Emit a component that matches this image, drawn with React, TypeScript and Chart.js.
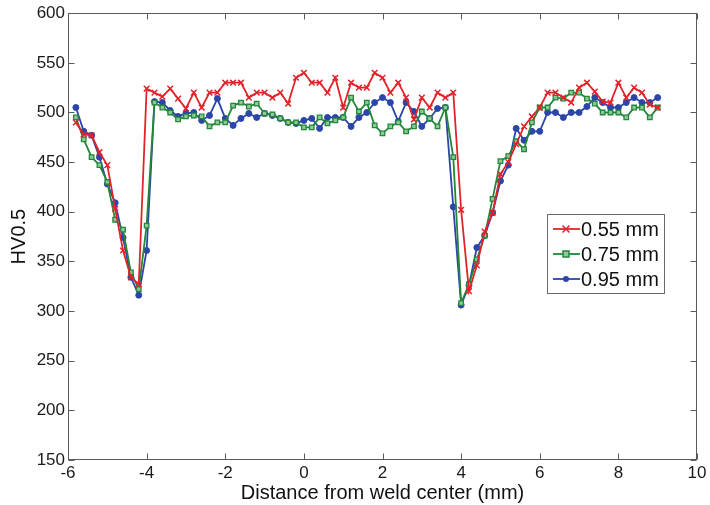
import React, { useEffect, useRef } from 'react';
import { Chart, registerables } from 'chart.js';

Chart.register(...registerables);

// Distance from weld center (mm)
const distances = [
  -5.8, -5.6, -5.4, -5.2, -5.0, -4.8, -4.6, -4.4, -4.2, -4.0,
  -3.8, -3.6, -3.4, -3.2, -3.0, -2.8, -2.6, -2.4, -2.2, -2.0,
  -1.8, -1.6, -1.4, -1.2, -1.0, -0.8, -0.6, -0.4, -0.2, 0.0,
  0.2, 0.4, 0.6, 0.8, 1.0, 1.2, 1.4, 1.6, 1.8, 2.0,
  2.2, 2.4, 2.6, 2.8, 3.0, 3.2, 3.4, 3.6, 3.8, 4.0,
  4.2, 4.4, 4.6, 4.8, 5.0, 5.2, 5.4, 5.6, 5.8, 6.0,
  6.2, 6.4, 6.6, 6.8, 7.0, 7.2, 7.4, 7.6, 7.8, 8.0,
  8.2, 8.4, 8.6, 8.8, 9.0,
];

// HV0.5 — 0.55 mm
const hv055 = [
  490, 478, 477, 460, 447, 403, 361, 334, 327, 524,
  520, 516, 524, 514, 504, 520, 505, 520, 520, 530,
  530, 530, 515, 520, 520, 515, 520, 509, 535, 540,
  530, 530, 520, 535, 505, 530, 525, 525, 540, 535,
  520, 530, 515, 493, 515, 505, 520, 515, 520, 402,
  320, 346, 380, 399, 438, 450, 468, 486, 496, 505,
  520, 520, 515, 510, 525, 530, 521, 511, 510, 530,
  515, 525, 520, 508, 505,
];

// HV0.5 — 0.75 mm
const hv075 = [
  495, 473, 455, 447, 430, 392, 382, 339, 322, 386,
  510, 505, 500, 493, 496, 497, 496, 486, 490, 490,
  507, 510, 506, 509, 499, 498, 494, 490, 490, 485,
  485, 495, 489, 492, 495, 515, 501, 510, 487, 479,
  486, 490, 481, 486, 501, 494, 486, 505, 455, 308,
  327, 352, 376, 413, 451, 456, 471, 463, 490, 505,
  505, 515, 514, 520, 520, 514, 509, 500, 500, 500,
  495, 505, 505, 495, 505,
];

// HV0.5 — 0.95 mm
const hv095 = [
  505, 481, 477, 455, 428, 409, 374, 334, 316, 361,
  511, 510, 502, 496, 499, 500, 492, 497, 514, 494,
  487, 494, 499, 495, 499, 497, 494, 490, 489, 492,
  494, 484, 495, 495, 495, 486, 495, 500, 510, 515,
  510, 491, 510, 501, 486, 494, 504, 505, 405, 306,
  326, 364, 376, 399, 431, 447, 484, 472, 481, 481,
  500, 500, 495, 500, 500, 506, 515, 510, 505, 505,
  510, 515, 510, 510, 515,
];

const seriesLabels = ['0.55 mm', '0.75 mm', '0.95 mm'];
const xTickValues = [-6, -4, -2, 0, 2, 4, 6, 8, 10];
const yTickValues = [150, 200, 250, 300, 350, 400, 450, 500, 550, 600];

const RED = '#e2232a';
const GREEN = '#23873a';
const BLUE = '#2b45a8';
const FONT = '"Liberation Sans", Arial, Helvetica, sans-serif';

function toPoints(values: number[]) {
  return distances.map((d, i) => ({ x: d, y: values[i] }));
}

function drawMarker(ctx: CanvasRenderingContext2D, style: string, x: number, y: number, color: string) {
  ctx.save();
  ctx.strokeStyle = color;
  ctx.fillStyle = color;
  ctx.lineWidth = 1.5;
  if (style === 'crossRot') {
    const r = 3.5;
    ctx.beginPath();
    ctx.moveTo(x - r, y - r);
    ctx.lineTo(x + r, y + r);
    ctx.moveTo(x - r, y + r);
    ctx.lineTo(x + r, y - r);
    ctx.stroke();
  } else if (style === 'rect') {
    ctx.fillStyle = '#8fc79a';
    ctx.fillRect(x - 3, y - 3, 6, 6);
    ctx.strokeRect(x - 3, y - 3, 6, 6);
  } else {
    ctx.beginPath();
    ctx.arc(x, y, 3, 0, Math.PI * 2);
    ctx.fill();
  }
  ctx.restore();
}

const framePlugin = {
  id: 'matlabFrame',
  beforeDatasetsDraw(chart: any) {
    const { ctx, chartArea: a, scales } = chart;
    ctx.save();
    ctx.strokeStyle = '#5a5a5a';
    ctx.lineWidth = 1;
    const L = Math.round(a.left) + 0.5;
    const R = Math.round(a.right) - 0.5;
    const T = Math.round(a.top) + 0.5;
    const B = Math.round(a.bottom) - 0.5;
    ctx.strokeRect(L, T, R - L, B - T);
    const tl = 6;
    ctx.beginPath();
    xTickValues.forEach((v) => {
      const px = Math.round(scales.x.getPixelForValue(v)) + 0.5;
      ctx.moveTo(px, B);
      ctx.lineTo(px, B - tl);
      ctx.moveTo(px, T);
      ctx.lineTo(px, T + tl);
    });
    yTickValues.forEach((v) => {
      const py = Math.round(scales.y.getPixelForValue(v)) + 0.5;
      ctx.moveTo(L, py);
      ctx.lineTo(L + tl, py);
      ctx.moveTo(R, py);
      ctx.lineTo(R - tl, py);
    });
    ctx.stroke();
    ctx.restore();
  },
  afterDraw(chart: any) {
    const { ctx } = chart;
    const bx = 547.5, by = 214.5, bw = 117, bh = 79;
    ctx.save();
    ctx.fillStyle = '#ffffff';
    ctx.fillRect(bx, by, bw, bh);
    ctx.strokeStyle = '#6a6a6a';
    ctx.lineWidth = 1;
    ctx.strokeRect(bx, by, bw, bh);
    const styles = ['crossRot', 'rect', 'circle'];
    chart.data.datasets.forEach((ds: any, i: number) => {
      const y = 229 + i * 25;
      ctx.strokeStyle = ds.borderColor;
      ctx.lineWidth = 1.8;
      ctx.beginPath();
      ctx.moveTo(553, y);
      ctx.lineTo(580, y);
      ctx.stroke();
      drawMarker(ctx, styles[i], 566, y, ds.borderColor);
      ctx.fillStyle = '#111';
      ctx.font = `20px ${FONT}`;
      ctx.textBaseline = 'middle';
      ctx.textAlign = 'left';
      ctx.fillText(ds.label, 581, y + 1);
    });
    ctx.restore();
  },
};

export default function App() {
  const canvasRef = useRef<HTMLCanvasElement | null>(null);

  useEffect(() => {
    const canvas = canvasRef.current;
    if (!canvas) return;
    const chart = new Chart(canvas, {
      type: 'line',
      data: {
        datasets: [
          {
            label: seriesLabels[0],
            data: toPoints(hv055),
            borderColor: RED,
            backgroundColor: RED,
            borderWidth: 1.8,
            pointStyle: 'crossRot',
            pointRadius: 4,
            pointBorderWidth: 1.5,
            pointBorderColor: RED,
            tension: 0,
          },
          {
            label: seriesLabels[1],
            data: toPoints(hv075),
            borderColor: GREEN,
            backgroundColor: '#8fc79a',
            borderWidth: 1.8,
            pointStyle: 'rect',
            pointRadius: 3.2,
            pointBorderWidth: 1.3,
            pointBorderColor: GREEN,
            pointBackgroundColor: '#8fc79a',
            tension: 0,
          },
          {
            label: seriesLabels[2],
            data: toPoints(hv095),
            borderColor: BLUE,
            backgroundColor: BLUE,
            borderWidth: 1.8,
            pointStyle: 'circle',
            pointRadius: 3,
            pointBorderWidth: 1,
            pointBorderColor: BLUE,
            pointBackgroundColor: BLUE,
            tension: 0,
          },
        ],
      },
      options: {
        animation: false,
        responsive: false,
        maintainAspectRatio: false,
        layout: { padding: { top: 12, right: 13, left: 0, bottom: 0 } },
        plugins: {
          legend: { display: false },
          tooltip: { enabled: false },
        },
        scales: {
          x: {
            type: 'linear',
            min: -6,
            max: 10,
            ticks: {
              stepSize: 2,
              padding: 3,
              color: '#1a1a1a',
              font: { family: FONT, size: 17 },
              maxRotation: 0,
            },
            grid: { display: false, drawTicks: false },
            border: { display: false },
            title: {
              display: true,
              text: 'Distance from weld center (mm)',
              color: '#111',
              font: { family: FONT, size: 20 },
              padding: { top: 0, bottom: 0 },
            },
            afterFit: (s: any) => {
              s.height = 45;
            },
          },
          y: {
            type: 'linear',
            min: 150,
            max: 600,
            ticks: {
              stepSize: 50,
              padding: 3,
              color: '#1a1a1a',
              font: { family: FONT, size: 17 },
            },
            grid: { display: false, drawTicks: false },
            border: { display: false },
            title: {
              display: true,
              text: 'HV0.5',
              color: '#111',
              font: { family: FONT, size: 20 },
              padding: { top: 7, bottom: 0 },
            },
            afterFit: (s: any) => {
              s.width = 68;
            },
          },
        },
      },
      plugins: [framePlugin],
    });
    return () => chart.destroy();
  }, []);

  return (
    <div style={{ position: 'fixed', left: 0, top: 0, width: 710, height: 505, background: '#fff' }}>
      <canvas ref={canvasRef} width={710} height={505} style={{ display: 'block' }} />
    </div>
  );
}
